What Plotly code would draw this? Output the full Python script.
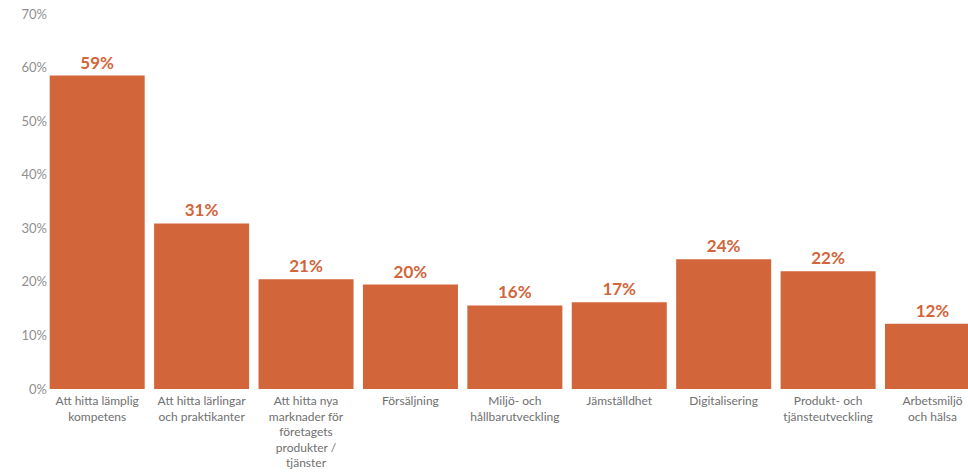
import plotly.graph_objects as go

categories = [
    "Att hitta lämplig<br>kompetens",
    "Att hitta lärlingar<br>och praktikanter",
    "Att hitta nya<br>marknader för<br>företagets<br>produkter /<br>tjänster",
    "Försäljning",
    "Miljö- och<br>hållbarutveckling",
    "Jämställdhet",
    "Digitalisering",
    "Produkt- och<br>tjänsteutveckling",
    "Arbetsmiljö<br>och hälsa",
]
values = [58.5, 30.9, 20.5, 19.5, 15.6, 16.2, 24.2, 22.0, 12.2]
labels = ["59%", "31%", "21%", "20%", "16%", "17%", "24%", "22%", "12%"]
y_ticks = [0, 10, 20, 30, 40, 50, 60, 70]
y_tick_text = ["0%", "10%", "20%", "30%", "40%", "50%", "60%", "70%"]

BAR = "#D3653A"

fig = go.Figure(go.Bar(
    x=list(range(len(categories))),
    y=values,
    marker=dict(color=BAR, line=dict(width=0)),
    text=labels,
    textposition="outside",
    cliponaxis=False,
    textfont=dict(family="Lato", size=17, color=BAR, weight="bold"),
    hoverinfo="skip",
))

fig.update_layout(
    width=968, height=472,
    margin=dict(l=45, r=0, t=14, b=83, pad=0),
    paper_bgcolor="white", plot_bgcolor="white",
    bargap=0.09,
    showlegend=False,
    xaxis=dict(
        tickmode="array",
        tickvals=list(range(len(categories))),
        ticktext=categories,
        range=[-0.5, 8.34],
        showgrid=False, zeroline=False, showline=False,
        tickfont=dict(family="Lato", size=12, color="#707070"),
        ticks="", ticklen=0,
        ticklabelstandoff=3,
        automargin=False,
    ),
    yaxis=dict(
        range=[0, 70],
        tickmode="array",
        tickvals=y_ticks,
        ticktext=y_tick_text,
        showgrid=False, zeroline=False, showline=False,
        tickfont=dict(family="Lato", size=13, color="#909090"),
        ticks="", ticklen=0,
        ticklabelstandoff=-3,
        automargin=False,
    ),
)

fig.write_html("out.html")
